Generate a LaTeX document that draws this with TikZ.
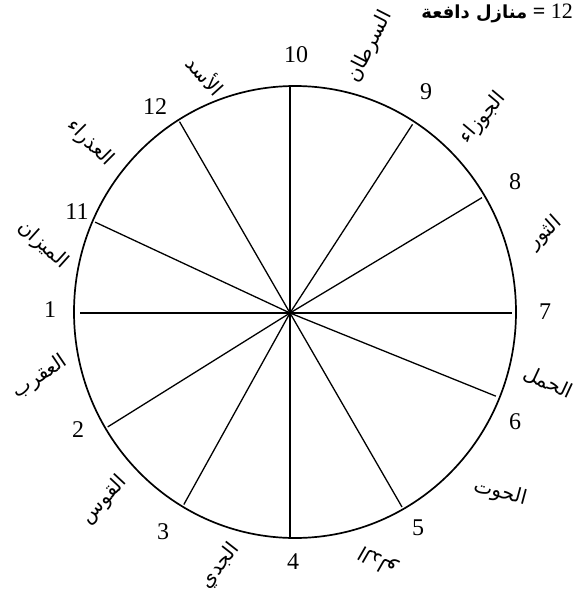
\documentclass[tikz,border=0pt]{standalone}
\usepackage{fontspec}
\setmainfont{Liberation Serif}
\newfontfamily\arabicfont[Script=Arabic]{DejaVu Sans}
\TeXXeTstate=1
\usetikzlibrary{calc}
\newcommand{\ar}[1]{\beginR #1\endR}
\tikzset{
  rim/.style={line width=1.7pt},
  spoke/.style={line width=1.3pt},
  houseno/.style={font=\fontsize{24}{24}\selectfont, inner sep=0pt},
  signlbl/.style={font=\arabicfont\fontsize{20}{20}\selectfont, inner sep=0pt}
}

\begin{document}
\begin{tikzpicture}[x=1pt,y=-1pt]
    \useasboundingbox (0,0) rectangle (575,598);

    % Centre of the spokes, centre of the rim
    \coordinate (c) at (290,313);
    \coordinate (e) at (295,312);

    % Rim
    \draw[rim] (e) ellipse [x radius=221pt, y radius=226pt];

    % Ends of the spokes
    \coordinate (p10) at ($(c)+(90:227pt)$);
    \coordinate (p9) at ($(c)+(57:225pt)$);
    \coordinate (p8) at ($(c)+(31:224pt)$);
    \coordinate (p7) at ($(c)+(0:222pt)$);
    \coordinate (p6) at ($(c)+(-22:222pt)$);
    \coordinate (p5) at ($(c)+(-60:224pt)$);
    \coordinate (p4) at ($(c)+(-90:225pt)$);
    \coordinate (p3) at ($(c)+(-119:219pt)$);
    \coordinate (p2) at ($(c)+(-148:215pt)$);
    \coordinate (p1) at ($(c)+(180:210pt)$);
    \coordinate (p11) at ($(c)+(155:215pt)$);
    \coordinate (p12) at ($(c)+(120:221pt)$);

    % Spokes
    \draw[spoke] (c) -- (p10);
    \draw[spoke] (c) -- (p9);
    \draw[spoke] (c) -- (p8);
    \draw[spoke] (c) -- (p7);
    \draw[spoke] (c) -- (p6);
    \draw[spoke] (c) -- (p5);
    \draw[spoke] (c) -- (p4);
    \draw[spoke] (c) -- (p3);
    \draw[spoke] (c) -- (p2);
    \draw[spoke] (c) -- (p1);
    \draw[spoke] (c) -- (p11);
    \draw[spoke] (c) -- (p12);

    % House numbers
    \node[houseno] (n10) at (296,55) {10};
    \node[houseno] (n9) at (426,92) {9};
    \node[houseno] (n8) at (515,182) {8};
    \node[houseno] (n7) at (545,312) {7};
    \node[houseno] (n6) at (515,422) {6};
    \node[houseno] (n5) at (418,528) {5};
    \node[houseno] (n4) at (293,562) {4};
    \node[houseno] (n3) at (163,532) {3};
    \node[houseno] (n2) at (78,430) {2};
    \node[houseno] (n1) at (50,310) {1};
    \node[houseno] (n11) at (77,212) {11};
    \node[houseno] (n12) at (155,107) {12};

    % Signs
    \node[signlbl, rotate=63] (cancer) at (370,47) {\ar{السرطان}};
    \node[signlbl, rotate=50] (gemini) at (483,118) {\ar{الجوزاء}};
    \node[signlbl, rotate=42] (taurus) at (545,233) {\ar{الثور}};
    \node[signlbl, rotate=-25] (aries) at (548,383) {\ar{الحمل}};
    \node[signlbl, rotate=-15] (pisces) at (500,493) {\ar{الحوت}};
    \node[signlbl, rotate=150] (aquarius) at (378,560) {\ar{الدلو}};
    \node[signlbl, rotate=52] (capricorn) at (220,566) {\ar{الجدي}};
    \node[signlbl, rotate=47] (sagittarius) at (104,500) {\ar{القوس}};
    \node[signlbl, rotate=34] (scorpio) at (40,377) {\ar{العقرب}};
    \node[signlbl, rotate=-42] (libra) at (43,245) {\ar{الميزان}};
    \node[signlbl, rotate=-45] (virgo) at (90,143) {\ar{العذراء}};
    \node[signlbl, rotate=-48] (leo) at (206,75) {\ar{الأسد}};

    % Title
    \node[anchor=east, inner sep=0pt, font=\fontsize{22}{22}\selectfont] (title) at (573,13)
        {{\arabicfont\bfseries\fontsize{18}{18}\selectfont\ar{منازل دافعة}} \textbf{=} 12};
\end{tikzpicture}
\end{document}
